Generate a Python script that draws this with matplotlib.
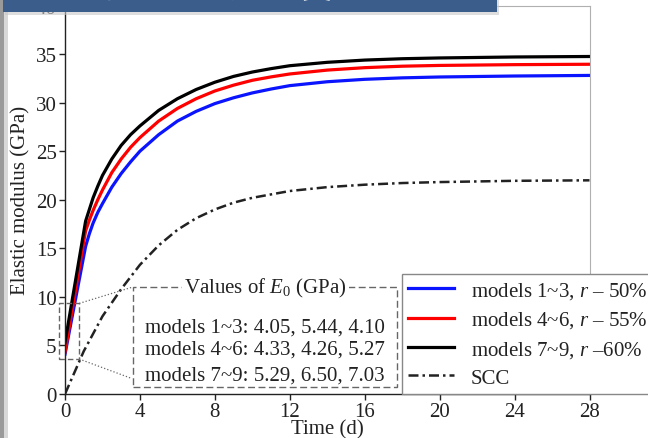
import matplotlib
matplotlib.use("Agg")
import matplotlib.pyplot as plt
from matplotlib.patches import Rectangle

plt.rcParams['font.family'] = ['Liberation Serif', 'Noto Sans CJK SC', 'DejaVu Sans']
plt.rcParams['mathtext.fontset'] = 'custom'
plt.rcParams['mathtext.it'] = 'Liberation Serif:italic'
plt.rcParams['mathtext.rm'] = 'Liberation Serif'

# ---- data ----
t_models = [0, 1.1, 1.3, 1.5, 1.75, 2, 2.5, 3, 3.5, 4, 5, 6, 7, 8, 9, 10, 11, 12, 14, 16, 18, 20, 24, 28]
e_models_1_3 = [4.1, 15.2, 16.5, 17.6, 18.7, 19.6, 21.3, 22.7, 23.9, 25.0, 26.7, 28.1, 29.1, 29.9,
                30.5, 31.0, 31.4, 31.75, 32.15, 32.4, 32.55, 32.64, 32.74, 32.8]
e_models_4_6 = [4.3, 16.8, 17.9, 18.9, 20.0, 21.0, 22.8, 24.2, 25.4, 26.4, 28.1, 29.4, 30.4, 31.2,
                31.8, 32.3, 32.65, 32.95, 33.35, 33.6, 33.75, 33.83, 33.91, 33.95]
e_models_7_9 = [5.3, 17.8, 19.0, 20.2, 21.4, 22.5, 24.2, 25.6, 26.7, 27.6, 29.2, 30.4, 31.35, 32.1,
                32.7, 33.15, 33.5, 33.8, 34.15, 34.38, 34.52, 34.6, 34.7, 34.75]
t_scc = [0, 1, 2, 3, 4, 5, 6, 7, 8, 9, 10, 12, 14, 16, 18, 20, 24, 28]
e_scc = [0, 4.4, 8.0, 10.8, 13.3, 15.3, 16.9, 18.1, 19.0, 19.7, 20.2, 20.9, 21.3, 21.55, 21.72,
         21.82, 21.95, 22.0]

legend_labels = ["models 1~3, $r$ – 50%", "models 4~6, $r$ – 55%",
                 "models 7~9, $r$ –60%", "SCC"]
e0_title = "Values of $E_0$ (GPa)"
e0_lines = ["models 1~3: 4.05, 5.44, 4.10",
            "models 4~6: 4.33, 4.26, 5.27",
            "models 7~9: 5.29, 6.50, 7.03"]
x_ticks = [0, 4, 8, 12, 16, 20, 24, 28]
y_ticks = [0, 5, 10, 15, 20, 25, 30, 35, 40]
banner_text = "弹性模量随时间变化曲线"

FS = 15
W, H = 648, 439
fig = plt.figure(figsize=(W / 100, H / 100), dpi=100)
fig.patch.set_facecolor('white')

ax = fig.add_axes([65 / W, 44 / H, 524.5 / W, 388.5 / H])
ax.set_xlim(0, 28)
ax.set_ylim(0, 40)

l1, = ax.plot(t_models, e_models_1_3, color='#0a14ff', lw=2.3)
l2, = ax.plot(t_models, e_models_4_6, color='#ff0000', lw=2.3)
l3, = ax.plot(t_models, e_models_7_9, color='black', lw=2.3)
l4, = ax.plot(t_scc, e_scc, color='#222222', lw=1.8, dashes=(4, 1.6, 1, 1.6))

ax.set_xticks(x_ticks)
ax.set_yticks(y_ticks)
ax.tick_params(direction='out', length=4, width=1, labelsize=FS, pad=2, colors='#222222')
for s in ['top', 'right']:
    ax.spines[s].set_color('#b0b0b0')
    ax.spines[s].set_linewidth(0.8)
for s in ['left', 'bottom']:
    ax.spines[s].set_color('#222222')
    ax.spines[s].set_linewidth(1.0)

ax.set_xlabel("Time (d)", fontsize=FS, color='#222222')
ax.xaxis.set_label_coords(0.5, -0.064)
ax.set_ylabel("Elastic modulus (GPa)", fontsize=FS, color='#222222')
ax.yaxis.set_label_coords(-0.066, 0.5)

# zoom rectangle near origin
zr = Rectangle((-0.3, 3.6), 1.06, 5.73, fill=False, ec='#666666', lw=1.0,
               ls=(0, (4, 2)), clip_on=False, zorder=5)
ax.add_patch(zr)
ax.plot([0.76, 3.56], [9.33, 10.98], color='#666666', lw=0.9, ls=':', clip_on=False)
ax.plot([0.76, 3.56], [3.6, 1.6], color='#666666', lw=0.9, ls=':', clip_on=False)

# E0 box
box = Rectangle((3.63, 0.72), 14.11, 10.28, fill=False, ec='#666666', lw=1.0,
                ls=(0, (5, 2.5)), zorder=4)
ax.add_patch(box)
ax.text(10.69, 11.0, e0_title, ha='center', va='center', fontsize=FS, color='#222222',
        bbox=dict(facecolor='white', edgecolor='none', pad=1.5), zorder=6)
for txt, yy in zip(e0_lines, [6.9, 4.6, 1.95]):
    ax.text(10.69, yy, txt, ha='center', va='center', fontsize=FS, color='#222222', zorder=6)

leg = fig.legend([l1, l2, l3, l4], legend_labels, loc='upper left',
                 bbox_to_anchor=(402 / W, 1 - 275 / H), bbox_transform=fig.transFigure,
                 fontsize=FS, frameon=True, fancybox=False, framealpha=1,
                 edgecolor='#888888', handlelength=2.2, handletextpad=0.8,
                 labelspacing=0.4, borderpad=0.3, borderaxespad=0)
leg.get_frame().set_linewidth(1.0)
for txt in leg.get_texts():
    txt.set_color('#222222')

# slide decorations: gray edge strip and banner
fig.patches.append(Rectangle((0, 0), 4 / W, 1, transform=fig.transFigure,
                             facecolor='#9a9a9a', edgecolor='none', zorder=0))
fig.patches.append(Rectangle((4 / W, 0), 4 / W, 1, transform=fig.transFigure,
                             facecolor='#d8d8d8', edgecolor='none', zorder=0))
fig.patches.append(Rectangle((5 / W, 1 - 16 / H), 494 / W, 16 / H, transform=fig.transFigure,
                             facecolor='#c8c8c8', edgecolor='none', zorder=9, alpha=0.6))
fig.patches.append(Rectangle((3 / W, 1 - 12.5 / H), 494 / W, 13 / H, transform=fig.transFigure,
                             facecolor='#3a5d8c', edgecolor='none', zorder=10))
fig.text(256 / W, 1 - 5 / H, banner_text, ha='center', va='bottom', fontsize=22,
         color='white', family=['Noto Sans CJK SC'], zorder=11)

fig.savefig("out.png", dpi=100)
